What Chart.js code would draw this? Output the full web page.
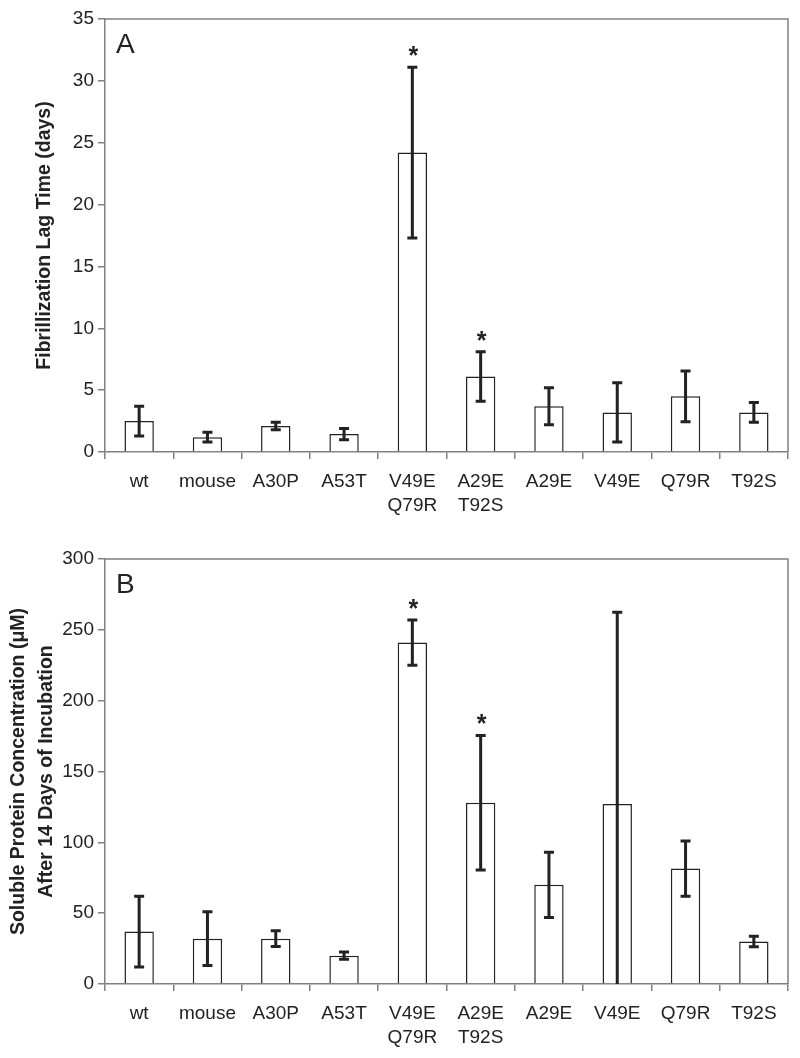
<!DOCTYPE html>
<html>
<head>
<meta charset="utf-8">
<script src="https://cdn.jsdelivr.net/npm/chart.js@4"></script>
<style>
  body { margin: 0; background: #fff; }
  .panel { position: absolute; left: 0; width: 800px; height: 529px; }
</style>
</head>
<body>
<div class="panel" style="top:0"><canvas id="chartA"></canvas></div>
<div class="panel" style="top:529px"><canvas id="chartB"></canvas></div>
<script>
/* ---------- DATA ---------- */
const categories = [["wt"], ["mouse"], ["A30P"], ["A53T"], ["V49E", "Q79R"], ["A29E", "T92S"], ["A29E"], ["V49E"], ["Q79R"], ["T92S"]];

const lagTime = [2.5, 1.2, 2.1, 1.45, 24.2, 6.1, 3.7, 3.2, 4.5, 3.2];
const lagErr  = [1.2, 0.4, 0.3, 0.45, 6.9, 2.0, 1.5, 2.4, 2.05, 0.8];
const lagSig  = ["", "", "", "", "*", "*", "", "", "", ""];

const soluble    = [37, 32, 32, 20, 241, 128, 70, 127, 81.5, 30];
const solubleErr = [25, 19, 5.6, 2.6, 16, 47.5, 23, 135.5, 19.5, 3.7];
const solubleSig = ["", "", "", "", "*", "*", "", "", "", ""];

const FONT = "'Liberation Sans', Arial, sans-serif";
const TEXT = "#222222";
const AXIS = "#808080";

/* ---------- ERROR BARS + FRAME + LETTER ---------- */
const extrasPlugin = {
    id: 'extras',
    afterDatasetsDraw(chart, args, opts) {
        const ctx = chart.ctx;
        const x = chart.scales.x, y = chart.scales.y;
        const vals = chart.data.datasets[0].data;
        const area = chart.chartArea;

        ctx.save();
        // frame top + right
        ctx.strokeStyle = AXIS;
        ctx.lineWidth = 1.5;
        ctx.beginPath();
        ctx.moveTo(area.left, area.top);
        ctx.lineTo(area.right, area.top);
        ctx.lineTo(area.right, area.bottom);
        ctx.stroke();

        // error bars
        ctx.strokeStyle = "#222";
        ctx.lineWidth = 3;
        vals.forEach((v, i) => {
            const px = x.getPixelForValue(i);
            const hi = y.getPixelForValue(v + opts.err[i]);
            const lo = y.getPixelForValue(Math.max(0, v - opts.err[i]));
            ctx.beginPath();
            ctx.moveTo(px, hi); ctx.lineTo(px, lo);
            ctx.moveTo(px - 5, hi); ctx.lineTo(px + 5, hi);
            if (v - opts.err[i] > 0) {
                ctx.moveTo(px - 5, lo); ctx.lineTo(px + 5, lo);
            }
            ctx.stroke();

            if (opts.sig[i]) {
                ctx.fillStyle = TEXT;
                ctx.font = "bold 25px " + FONT;
                ctx.textAlign = "center";
                ctx.textBaseline = "alphabetic";
                ctx.fillText(opts.sig[i], px + 1, hi - 3);
            }
        });

        // panel letter
        ctx.fillStyle = TEXT;
        ctx.font = "28px " + FONT;
        ctx.textAlign = "left";
        ctx.textBaseline = "top";
        ctx.fillText(opts.letter, area.left + 11, area.top + 12);
        ctx.restore();
    }
};

function makeChart(id, values, err, sig, letter, yMax, yStep, yTitle, titleLH, titlePad, padTop, xHeight) {
    return new Chart(document.getElementById(id), {
        type: "bar",
        data: {
            labels: categories,
            datasets: [{
                data: values,
                backgroundColor: "#ffffff",
                borderColor: "#222222",
                borderWidth: 1.5,
                categoryPercentage: 1.0,
                barPercentage: 0.43
            }]
        },
        options: {
            responsive: true,
            maintainAspectRatio: false,
            animation: false,
            layout: { padding: { left: 0, right: 12, top: padTop, bottom: 0 } },
            plugins: {
                legend: { display: false },
                tooltip: { enabled: false },
                extras: { err: err, sig: sig, letter: letter }
            },
            scales: {
                x: {
                    grid: { drawOnChartArea: false, drawTicks: true, tickLength: 7, color: AXIS, lineWidth: 1.5 },
                    border: { color: AXIS, width: 1.5 },
                    ticks: { color: TEXT, font: { family: FONT, size: 19, lineHeight: 1.3 }, padding: 10, maxRotation: 0 },
                    afterFit: s => { s.height = xHeight; }
                },
                y: {
                    min: 0,
                    max: yMax,
                    ticks: { stepSize: yStep, color: TEXT, font: { family: FONT, size: 19 }, padding: 4 },
                    grid: { drawOnChartArea: false, drawTicks: true, tickLength: 7, color: AXIS, lineWidth: 1.5 },
                    border: { color: AXIS, width: 1.5 },
                    title: {
                        display: true,
                        text: yTitle,
                        color: TEXT,
                        font: { family: FONT, size: 19.5, weight: "bold", lineHeight: titleLH },
                        padding: { top: titlePad, bottom: 0 }
                    },
                    afterFit: s => { s.width = 105; }
                }
            }
        },
        plugins: [extrasPlugin]
    });
}

makeChart("chartA", lagTime, lagErr, lagSig, "A", 35, 5,
    "Fibrillization Lag Time (days)", 1.2, 33, 19, 77);

makeChart("chartB", soluble, solubleErr, solubleSig, "B", 300, 50,
    ["Soluble Protein Concentration (\u03BCM)", "After 14 Days of Incubation"], 1.42, 5, 30, 74);
</script>
</body>
</html>
